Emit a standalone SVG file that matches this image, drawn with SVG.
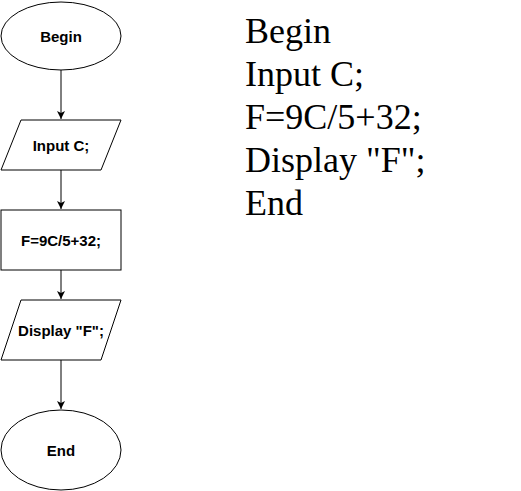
<svg xmlns="http://www.w3.org/2000/svg" width="521" height="491" viewBox="0 0 521 491">
<defs>
<style>
.s{fill:#fff;stroke:#000;stroke-width:1}
.t{font-family:"Liberation Sans",Arial,sans-serif;font-size:15px;font-weight:bold;text-anchor:middle;dominant-baseline:central;fill:#000}
.c{stroke:#000;stroke-width:1;fill:none}
.p{font-family:"Liberation Serif","Times New Roman",serif;font-size:36px;fill:#000}
</style>
<marker id="a" markerWidth="10" markerHeight="10" refX="8" refY="4" orient="auto" markerUnits="userSpaceOnUse" viewBox="0 0 10 8">
<path d="M0,0 L8,4 L0,8 L2,4 Z" fill="#000"/>
</marker>
</defs>
<rect width="521" height="491" fill="#fff"/>
<g id="connectors">
<line class="c" x1="61" y1="70" x2="61" y2="119" marker-end="url(#a)"/>
<line class="c" x1="61" y1="170" x2="61" y2="209" marker-end="url(#a)"/>
<line class="c" x1="61" y1="270" x2="61" y2="299" marker-end="url(#a)"/>
<line class="c" x1="61" y1="360" x2="61" y2="409" marker-end="url(#a)"/>
</g>
<g id="begin">
<ellipse class="s" cx="61" cy="36" rx="60" ry="34"/>
<text class="t" x="61" y="36">Begin</text>
</g>
<g id="input">
<polygon class="s" points="21,120 121,120 101,170 1,170"/>
<text class="t" x="61" y="145">Input C;</text>
</g>
<g id="calc">
<rect class="s" x="1" y="210" width="120" height="60"/>
<text class="t" x="61" y="240">F=9C/5+32;</text>
</g>
<g id="display">
<polygon class="s" points="21,300 121,300 101,360 1,360"/>
<text class="t" x="61" y="330">Display "F";</text>
</g>
<g id="end">
<ellipse class="s" cx="61" cy="450" rx="60" ry="40"/>
<text class="t" x="61" y="450">End</text>
</g>
<g id="pseudocode">
<text class="p" x="245" y="43">Begin</text>
<text class="p" x="245" y="86">Input C;</text>
<text class="p" x="245" y="129">F=9C/5+32;</text>
<text class="p" x="245" y="172">Display "F";</text>
<text class="p" x="245" y="215">End</text>
</g>
</svg>
